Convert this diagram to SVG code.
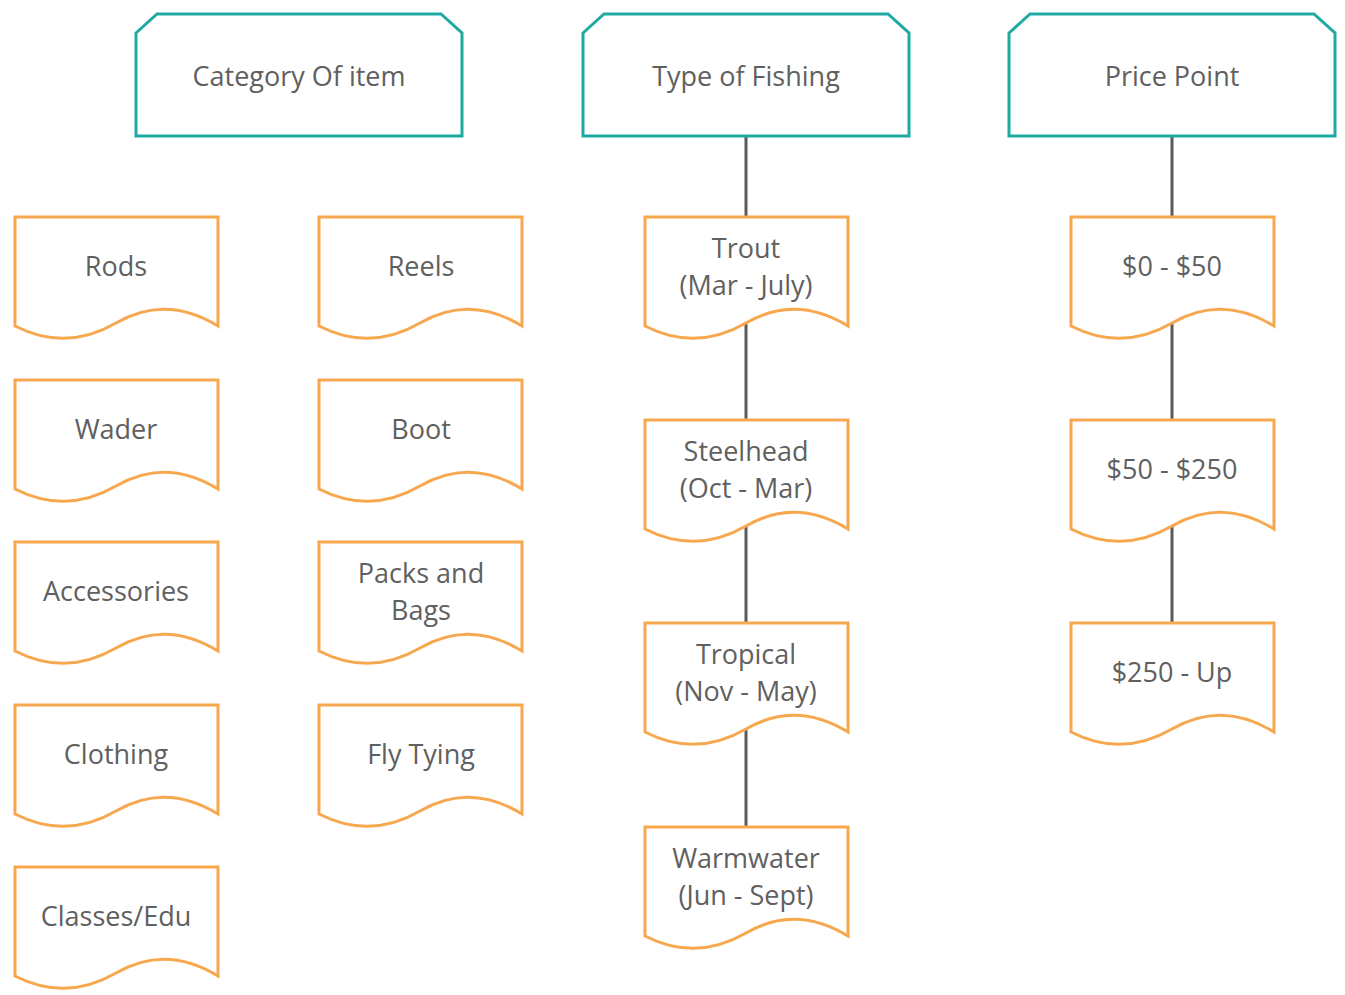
<svg xmlns="http://www.w3.org/2000/svg" width="1345" height="995" viewBox="0 0 1345 995">
  <defs>
    <!-- header: rectangle with clipped top corners, 326 x 122 -->
    <path id="hdr" d="M0,19 L21,0 H305 L326,19 V122 H0 Z"/>
    <!-- document shape: 203 wide, wavy bottom -->
    <path id="doc" d="M0,0 H203 V109 Q151,77 101,106 Q51,135 0,109 Z"/>
  </defs>
  <style>
    .bg { fill: #ffffff; }
    .hdr { fill: #ffffff; stroke: #1eaaa2; stroke-width: 3; }
    .doc { fill: #ffffff; stroke: #f7a84e; stroke-width: 3; }
    .link { stroke: #5a5a5a; stroke-width: 3; fill: none; }
    text { font-family: "Open Sans", "Noto Sans", "Liberation Sans", sans-serif; font-size: 27px; fill: #606060; text-anchor: middle; dominant-baseline: central; }
  </style>
  <rect class="bg" x="0" y="0" width="1345" height="995"/>

  <!-- connectors -->
  <g id="connectors">
    <line class="link" x1="746" y1="136" x2="746" y2="880"/>
    <line class="link" x1="1172" y1="136" x2="1172" y2="680"/>
  </g>

  <!-- headers -->
  <g id="hdr-category"><use href="#hdr" class="hdr" x="136" y="14"/><text x="299" y="75">Category Of item</text></g>
  <g id="hdr-type"><use href="#hdr" class="hdr" x="583" y="14"/><text x="746" y="75">Type of Fishing</text></g>
  <g id="hdr-price"><use href="#hdr" class="hdr" x="1009" y="14"/><text x="1172" y="75">Price Point</text></g>

  <!-- category column 1 -->
  <g id="n-rods"><use href="#doc" class="doc" x="15" y="217"/><text x="116" y="265">Rods</text></g>
  <g id="n-wader"><use href="#doc" class="doc" x="15" y="380"/><text x="116" y="428">Wader</text></g>
  <g id="n-accessories"><use href="#doc" class="doc" x="15" y="542"/><text x="116" y="590">Accessories</text></g>
  <g id="n-clothing"><use href="#doc" class="doc" x="15" y="705"/><text x="116" y="753">Clothing</text></g>
  <g id="n-classes"><use href="#doc" class="doc" x="15" y="867"/><text x="116" y="915">Classes/Edu</text></g>

  <!-- category column 2 -->
  <g id="n-reels"><use href="#doc" class="doc" x="319" y="217"/><text x="421" y="265">Reels</text></g>
  <g id="n-boot"><use href="#doc" class="doc" x="319" y="380"/><text x="421" y="428">Boot</text></g>
  <g id="n-packs"><use href="#doc" class="doc" x="319" y="542"/><text x="421" y="572">Packs and</text><text x="421" y="609">Bags</text></g>
  <g id="n-flytying"><use href="#doc" class="doc" x="319" y="705"/><text x="421" y="753">Fly Tying</text></g>

  <!-- type of fishing -->
  <g id="n-trout"><use href="#doc" class="doc" x="645" y="217"/><text x="746" y="247">Trout</text><text x="746" y="284">(Mar - July)</text></g>
  <g id="n-steelhead"><use href="#doc" class="doc" x="645" y="420"/><text x="746" y="450">Steelhead</text><text x="746" y="487">(Oct - Mar)</text></g>
  <g id="n-tropical"><use href="#doc" class="doc" x="645" y="623"/><text x="746" y="653">Tropical</text><text x="746" y="690">(Nov - May)</text></g>
  <g id="n-warmwater"><use href="#doc" class="doc" x="645" y="827"/><text x="746" y="857">Warmwater</text><text x="746" y="894">(Jun - Sept)</text></g>

  <!-- price point -->
  <g id="n-p1"><use href="#doc" class="doc" x="1071" y="217"/><text x="1172" y="265">$0 - $50</text></g>
  <g id="n-p2"><use href="#doc" class="doc" x="1071" y="420"/><text x="1172" y="468">$50 - $250</text></g>
  <g id="n-p3"><use href="#doc" class="doc" x="1071" y="623"/><text x="1172" y="671">$250 - Up</text></g>
</svg>
